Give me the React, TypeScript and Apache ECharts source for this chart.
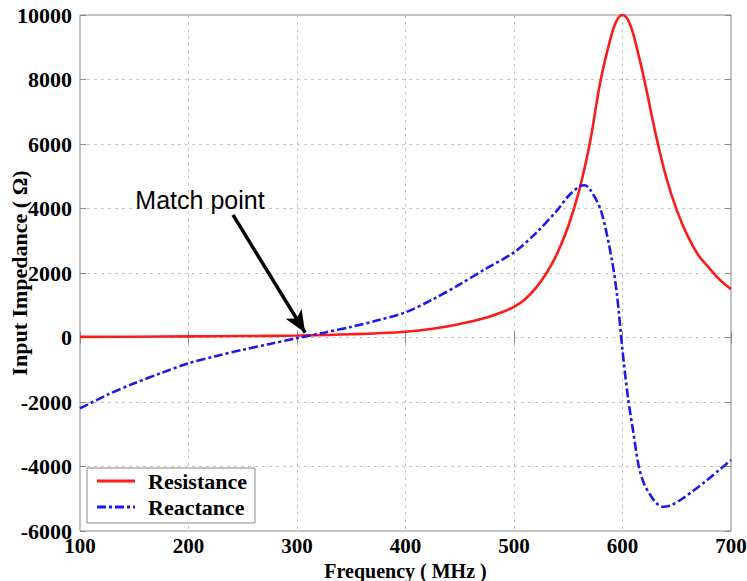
import React, { useEffect, useRef } from "react";
import * as echarts from "echarts";

const freqR = [100, 150, 200, 250, 300, 350, 400, 425, 450, 475, 490, 500, 510, 520, 530, 540, 550, 560, 570, 580, 590, 595, 600, 605, 610, 620, 630, 640, 650, 660, 670, 680, 690, 700];
const resistance = [20, 25, 35, 45, 60, 100, 180, 270, 420, 620, 800, 950, 1180, 1530, 2000, 2620, 3450, 4550, 6050, 8000, 9400, 9850, 10000, 9850, 9400, 8000, 6400, 5000, 3950, 3150, 2550, 2150, 1780, 1500];

const freqX = [100, 125, 150, 175, 200, 225, 250, 275, 300, 325, 350, 375, 400, 425, 450, 475, 500, 520, 540, 550, 560, 565, 570, 580, 590, 595, 600, 605, 610, 615, 620, 625, 631, 637, 645, 655, 665, 678, 690, 700];
const reactance = [-2200, -1780, -1420, -1100, -800, -580, -380, -200, -20, 150, 330, 540, 780, 1180, 1650, 2150, 2640, 3230, 3950, 4380, 4680, 4720, 4600, 3950, 2450, 1300, -400, -1850, -2950, -4000, -4550, -4850, -5130, -5250, -5200, -5000, -4760, -4420, -4080, -3800];

const xTicks = { min: 100, max: 700, step: 100 };
const yTicks = { min: -6000, max: 10000, step: 2000 };

const seriesNames = ["Resistance", "Reactance"];
const matchArrow = { from: [241, 3800], to: [307.5, 150] };
const annotationText = "Match point";
const xName = "Frequency ( MHz )";
const yName = "Input Impedance ( \u03A9)";

const serif = "'Liberation Serif', 'Times New Roman', serif";
const solidIcon = "path://M0,0H38V3H0Z";
const dashIcon = "path://M0,0H9V3H0Z M12,0H15V3H12Z M18,0H27V3H18Z M30,0H33V3H30Z M36,0H38V3H36Z";

export default function App() {
  const ref = useRef<HTMLDivElement>(null);
  useEffect(() => {
    document.body.style.margin = "0";
    if (!ref.current) return;
    const chart = echarts.init(ref.current, undefined, { renderer: "svg" });
    const gridLine = { show: true, lineStyle: { color: "#c4c4c4", type: [3, 4] as any, width: 1 } };
    const tick = { show: true, inside: true, length: 6, lineStyle: { color: "#888" } };
    const label = { color: "#000", fontFamily: serif, fontWeight: "bold" as const, fontSize: 22 };
    const plain = (v: number) => String(v);
    chart.setOption({
      animation: false,
      backgroundColor: "#fff",
      grid: {
        left: 80, top: 15, right: 16, bottom: 50,
        outerBoundsMode: "none",
        containLabel: false,
        show: true, borderColor: "#888", borderWidth: 1, backgroundColor: "transparent",
      },
      legend: {
        orient: "vertical",
        left: 87,
        top: 468,
        data: [
          { name: seriesNames[0], icon: solidIcon },
          { name: seriesNames[1], icon: dashIcon },
        ],
        itemWidth: 38,
        itemHeight: 3,
        itemGap: 4,
        padding: [2, 8, 5, 10],
        backgroundColor: "#fff",
        borderColor: "#888",
        borderWidth: 1,
        borderRadius: 0,
        textStyle: { ...label, fontSize: 22, padding: [0, 0, 0, 8] },
      },
      xAxis: [
        {
          type: "value",
          min: xTicks.min,
          max: xTicks.max,
          interval: xTicks.step,
          position: "bottom",
          axisLine: { show: false },
          axisTick: tick,
          splitLine: gridLine,
          axisLabel: { ...label, fontSize: 21, margin: 6, lineHeight: 18, formatter: plain },
          name: xName,
          nameLocation: "middle",
          nameGap: 30,
          nameMoveOverlap: false,
          nameTextStyle: { ...label, fontSize: 20, lineHeight: 20 },
        },
        {
          type: "value",
          min: xTicks.min,
          max: xTicks.max,
          interval: xTicks.step,
          position: "top",
          axisLine: { show: false },
          axisTick: tick,
          splitLine: { show: false },
          axisLabel: { show: false },
        },
      ],
      yAxis: [
        {
          type: "value",
          min: yTicks.min,
          max: yTicks.max,
          interval: yTicks.step,
          position: "left",
          axisLine: { show: false },
          axisTick: tick,
          splitLine: gridLine,
          axisLabel: { ...label, margin: 8, lineHeight: 16, formatter: plain },
          name: yName,
          nameLocation: "middle",
          nameGap: 50,
          nameMoveOverlap: false,
          nameTextStyle: { ...label, fontSize: 22 },
        },
        {
          type: "value",
          min: yTicks.min,
          max: yTicks.max,
          interval: yTicks.step,
          position: "right",
          axisLine: { show: false },
          axisTick: tick,
          splitLine: { show: false },
          axisLabel: { show: false },
        },
      ],
      series: [
        {
          name: seriesNames[0],
          type: "line",
          data: freqR.map((f, i) => [f, resistance[i]]),
          showSymbol: false,
          symbol: "none",
          smooth: 0.4,
          lineStyle: { color: "#ff1a1a", width: 2.6 },
          itemStyle: { color: "#ff1a1a" },
          z: 3,
        },
        {
          name: seriesNames[1],
          type: "line",
          data: freqX.map((f, i) => [f, reactance[i]]),
          showSymbol: false,
          symbol: "none",
          smooth: 0.3,
          lineStyle: { color: "#1a1aee", width: 2.6, type: [9, 3, 3, 3] },
          itemStyle: { color: "#1a1aee" },
          z: 4,
          markLine: {
            silent: true,
            symbol: ["none", "arrow"],
            symbolSize: [14, 22],
            label: { show: false },
            lineStyle: { color: "#000", width: 3.5, type: "solid" },
            data: [[{ coord: matchArrow.from }, { coord: matchArrow.to }]],
          },
          markPoint: {
            silent: true,
            symbol: "circle",
            symbolSize: 0,
            data: [
              {
                coord: matchArrow.from,
                label: {
                  show: true,
                  formatter: annotationText,
                  position: "top",
                  distance: 2,
                  color: "#000",
                  fontFamily: "'Liberation Sans', Arial, sans-serif",
                  fontSize: 25,
                  offset: [-33, 0],
                },
              },
            ],
          },
        },
      ],
    });
    return () => chart.dispose();
  }, []);
  return <div ref={ref} style={{ width: 747, height: 581 }} />;
}
